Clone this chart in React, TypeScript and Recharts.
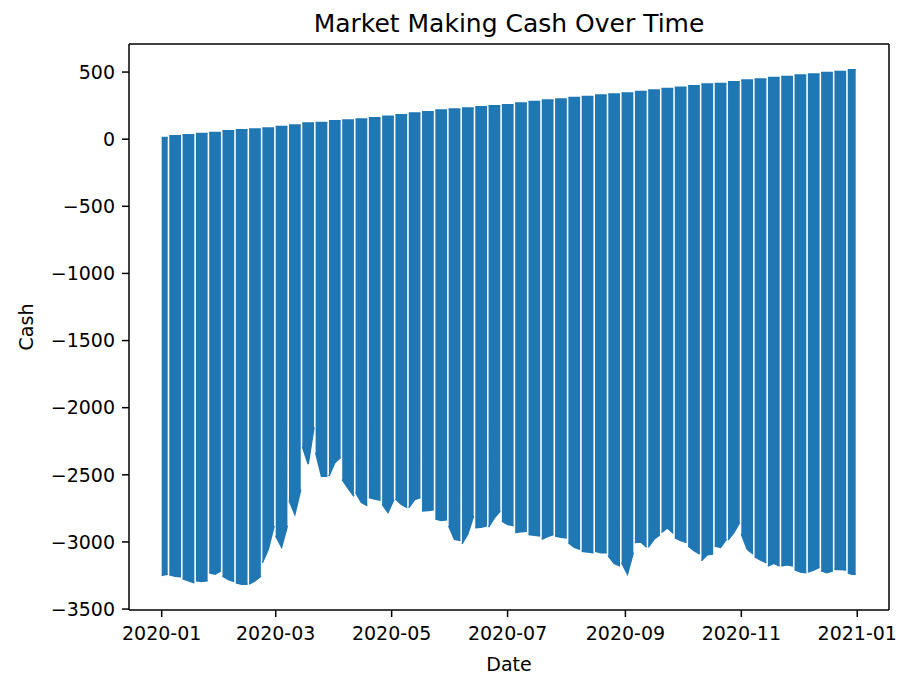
import { AreaChart, Area, XAxis, YAxis, ReferenceLine } from "recharts";

const DAY = 86400000;

// first / last timestamp of each trading week (2020-01-01 is a Wednesday)
const sessionOpen = [
  "2020-01-01", "2020-01-05", "2020-01-12", "2020-01-19", "2020-01-26",
  "2020-02-02", "2020-02-09", "2020-02-16", "2020-02-23", "2020-03-01",
  "2020-03-08", "2020-03-15", "2020-03-22", "2020-03-29", "2020-04-05",
  "2020-04-12", "2020-04-19", "2020-04-26", "2020-05-03", "2020-05-10",
  "2020-05-17", "2020-05-24", "2020-05-31", "2020-06-07", "2020-06-14",
  "2020-06-21", "2020-06-28", "2020-07-05", "2020-07-12", "2020-07-19",
  "2020-07-26", "2020-08-02", "2020-08-09", "2020-08-16", "2020-08-23",
  "2020-08-30", "2020-09-06", "2020-09-13", "2020-09-20", "2020-09-27",
  "2020-10-04", "2020-10-11", "2020-10-18", "2020-10-25", "2020-11-01",
  "2020-11-08", "2020-11-15", "2020-11-22", "2020-11-29", "2020-12-06",
  "2020-12-13", "2020-12-20", "2020-12-27",
];

const sessionClose = [
  "2020-01-04T04:00", "2020-01-11T04:00", "2020-01-18T04:00", "2020-01-25T04:00", "2020-02-01T04:00",
  "2020-02-08T04:00", "2020-02-15T04:00", "2020-02-22T04:00", "2020-02-29T04:00", "2020-03-07T04:00",
  "2020-03-14T04:00", "2020-03-21T04:00", "2020-03-28T04:00", "2020-04-04T04:00", "2020-04-11T04:00",
  "2020-04-18T04:00", "2020-04-25T04:00", "2020-05-02T04:00", "2020-05-09T04:00", "2020-05-16T04:00",
  "2020-05-23T04:00", "2020-05-30T04:00", "2020-06-06T04:00", "2020-06-13T04:00", "2020-06-20T04:00",
  "2020-06-27T04:00", "2020-07-04T04:00", "2020-07-11T04:00", "2020-07-18T04:00", "2020-07-25T04:00",
  "2020-08-01T04:00", "2020-08-08T04:00", "2020-08-15T04:00", "2020-08-22T04:00", "2020-08-29T04:00",
  "2020-09-05T04:00", "2020-09-12T04:00", "2020-09-19T04:00", "2020-09-26T04:00", "2020-10-03T04:00",
  "2020-10-10T04:00", "2020-10-17T04:00", "2020-10-24T04:00", "2020-10-31T04:00", "2020-11-07T04:00",
  "2020-11-14T04:00", "2020-11-21T04:00", "2020-11-28T04:00", "2020-12-05T04:00", "2020-12-12T04:00",
  "2020-12-19T04:00", "2020-12-26T04:00", "2020-12-31T04:00",
];

// cash at the end of each week (the upper envelope)
const weekTop = [
  13, 26, 33, 43, 50, 63, 70, 75, 83, 95,
  105, 120, 125, 137, 142, 150, 160, 171, 182, 195,
  205, 217, 225, 232, 242, 249, 257, 269, 281, 291,
  299, 311, 318, 329, 336, 344, 356, 366, 378, 386,
  398, 411, 415, 428, 441, 448, 460, 467, 478, 485,
  497, 505, 517,
];

// lowest cash early / mid / late in each week
const lowOpen = [
  -3250, -3245, -3275, -3290, -3230, -3255, -3305, -3315, -3155, -2955,
  -2690, -2290, -2335, -2510, -2535, -2630, -2670, -2720, -2680, -2745,
  -2770, -2830, -2880, -3015, -2895, -2890, -2845, -2930, -2945, -2980,
  -2955, -3005, -3070, -3070, -3105, -3155, -3005, -3040, -2930, -2970,
  -3030, -3140, -3030, -2985, -2940, -3110, -3180, -3180, -3205, -3225,
  -3215, -3205, -3230,
];
const lowMid = [
  -3245, -3255, -3290, -3295, -3240, -3280, -3315, -3290, -3055, -3040,
  -2795, -2420, -2510, -2410, -2600, -2705, -2680, -2780, -2720, -2685,
  -2765, -2840, -2980, -2940, -2890, -2820, -2870, -2925, -2950, -2960,
  -2965, -3040, -3075, -3080, -3160, -3240, -3000, -2980, -2895, -2990,
  -3065, -3095, -3040, -2930, -3055, -3135, -3160, -3170, -3225, -3210,
  -3230, -3205, -3240,
];
const lowClose = [
  -3240, -3260, -3305, -3290, -3215, -3295, -3315, -3255, -2880, -2880,
  -2610, -2145, -2510, -2370, -2660, -2730, -2690, -2685, -2745, -2670,
  -2760, -2835, -2990, -2805, -2880, -2770, -2880, -2920, -2955, -2945,
  -2970, -3055, -3080, -3080, -3180, -3080, -3040, -2945, -2935, -3005,
  -3090, -3090, -2980, -2855, -3090, -3155, -3180, -3180, -3230, -3190,
  -3215, -3210, -3240,
];

const xTicks = ["2020-01", "2020-03", "2020-05", "2020-07", "2020-09", "2020-11", "2021-01"];
const yTicks = [500, 0, -500, -1000, -1500, -2000, -2500, -3000, -3500];

function toTime(s: string): number {
  return Date.parse(s.includes("T") ? s + "Z" : s);
}

type Row = { t: number; cash: [number, number] | null };
const rows: Row[] = [];
sessionOpen.forEach((open, i) => {
  const t0 = toTime(open);
  const t1 = toTime(sessionClose[i]);
  rows.push({ t: t0, cash: [lowOpen[i], weekTop[i]] });
  rows.push({ t: (t0 + t1) / 2, cash: [lowMid[i], weekTop[i]] });
  rows.push({ t: t1, cash: [lowClose[i], weekTop[i]] });
  // weekend, no quotes -> break the line
  rows.push({ t: t1 + DAY / 4, cash: null });
});

const tickTimes = xTicks.map((m) => toTime(m + "-01"));
const xDomain = [tickTimes[0] - 17.2 * DAY, tickTimes[tickTimes.length - 1] + 16.7 * DAY];
const yDomain = [-3507, 709];

const font = "DejaVu Sans";
const blue = "#1f77b4";

function fmtMonth(v: number) {
  return new Date(v).toISOString().slice(0, 7);
}

function fmtCash(v: number) {
  return v < 0 ? `\u2212${Math.abs(v)}` : `${v}`;
}

export default function App() {
  return (
    <div style={{ position: "relative", width: 903, height: 674, background: "#fff" }}>
      <style>{"body{margin:0}"}</style>
      <AreaChart
        width={903}
        height={674}
        data={rows}
        margin={{ top: 44, right: 14, bottom: 0, left: 0 }}
        style={{ fontFamily: font }}
      >
        <XAxis
          dataKey="t"
          type="number"
          domain={xDomain}
          allowDataOverflow
          ticks={tickTimes}
          interval={0}
          tickFormatter={fmtMonth}
          height={64}
          tickSize={7}
          tickMargin={10}
          tick={{ fill: "#000", fontSize: 19, fontFamily: font }}
          axisLine={{ stroke: "#000", strokeWidth: 1.5 }}
          tickLine={{ stroke: "#000", strokeWidth: 1.5 }}
        />
        <YAxis
          type="number"
          domain={yDomain}
          allowDataOverflow
          ticks={yTicks}
          interval={0}
          tickFormatter={fmtCash}
          width={129}
          tickSize={7}
          tickMargin={7}
          tick={{ fill: "#000", fontSize: 19, fontFamily: font }}
          axisLine={{ stroke: "#000", strokeWidth: 1.5 }}
          tickLine={{ stroke: "#000", strokeWidth: 1.5 }}
        />
        <Area
          type="linear"
          dataKey="cash"
          stroke={blue}
          strokeWidth={1.5}
          fill={blue}
          fillOpacity={1}
          connectNulls={false}
          dot={false}
          activeDot={false}
          isAnimationActive={false}
        />
        {/* top and right spines */}
        <ReferenceLine y={yDomain[1]} stroke="#000" strokeWidth={1.5} ifOverflow="visible" />
        <ReferenceLine x={xDomain[1]} stroke="#000" strokeWidth={1.5} ifOverflow="visible" />
      </AreaChart>
      <svg
        width={903}
        height={674}
        style={{ position: "absolute", left: 0, top: 0, pointerEvents: "none" }}
        fontFamily={font}
        fill="#000"
      >
        <text x={509} y={31.7} textAnchor="middle" fontSize={25}>
          Market Making Cash Over Time
        </text>
        <text transform="translate(33,327) rotate(-90)" textAnchor="middle" fontSize={19}>
          Cash
        </text>
        <text x={509} y={671} textAnchor="middle" fontSize={19}>
          Date
        </text>
      </svg>
    </div>
  );
}
